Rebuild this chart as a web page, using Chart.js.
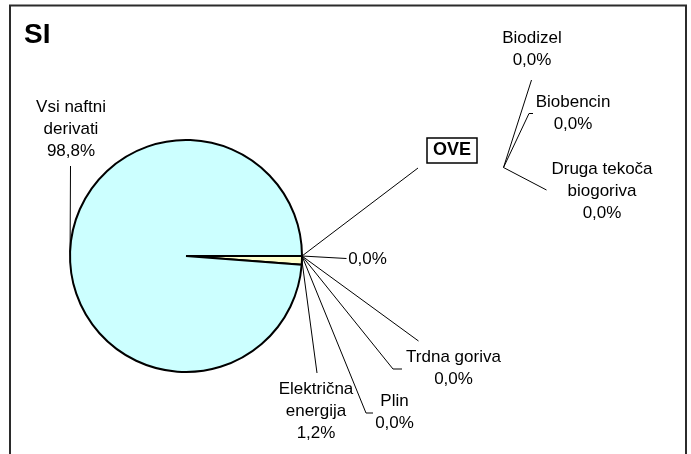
<!DOCTYPE html>
<html>
<head>
<meta charset="utf-8">
<title>SI</title>
<script src="https://cdn.jsdelivr.net/npm/chart.js@4.4.1/dist/chart.umd.min.js"></script>
<style>
  html, body { margin: 0; padding: 0; background: #fff; }
  canvas { display: block; }
</style>
</head>
<body>
<canvas id="chart" width="691" height="454"></canvas>
<script>
// struktura porabe energije v prometu - SI
const categories = ['Električna\nenergija', 'Vsi naftni\nderivati', 'Plin', 'Trdna goriva', '', '', 'OVE'];
const shares = [1.2, 98.8, 0.0, 0.0, 0.0, 0.0, 0.0];
const showPct = [true, true, true, true, false, true, false];

// razčlenitev OVE
const oveCategories = ['Biodizel', 'Biobencin', 'Druga tekoča\nbiogoriva'];
const oveShares = [0.0, 0.0, 0.0];

const sliceColors = ['#FFFFCC', '#CCFFFF', '#FFFFFF', '#FFFFFF', '#FFFFFF', '#FFFFFF', '#FFFFFF'];

// kam gredo črte do oznak (zadnja točka je konec črte) in središče besedila
const labelLayout = [
  { path: [[317, 373]], x: 316, y: 389 },
  { path: [[70.5, 166]], x: 71, y: 107.5 },
  { path: [[366, 413], [373, 413]], x: 394.5, y: 401 },
  { path: [[393, 369], [402, 369]], x: 453.5, y: 357.5 },
  { path: [[418.5, 341]] },
  { path: [[346.5, 258.5]], x: 367.5, y: 259 },
  { path: [[418, 168]], x: 452, y: 150.5, box: true }
];
const oveJunction = [503.5, 167.5];
const oveLayout = [
  { path: [[531.5, 80]], x: 532, y: 38.5 },
  { path: [[529, 113.5], [533, 113.5]], x: 573, y: 102 },
  { path: [[546.5, 190]], x: 602, y: 169 }
];

const FONT = '"Liberation Sans", Arial, sans-serif';
const LINE_H = 22;
const fmt = v => v.toFixed(1).replace('.', ',') + '%';

function drawLabel(ctx, name, pct, lay) {
  const lines = name ? name.split('\n') : [];
  if (pct !== null) lines.push(pct);
  lines.forEach((t, k) => ctx.fillText(t, lay.x, lay.y + k * LINE_H));
}

function drawPath(ctx, start, pts) {
  ctx.beginPath();
  ctx.moveTo(start[0], start[1]);
  pts.forEach(p => ctx.lineTo(p[0], p[1]));
  ctx.stroke();
}

const leaders = {
  id: 'leaders',
  beforeDraw(chart) {
    const ctx = chart.ctx;
    ctx.save();
    ctx.strokeStyle = '#2b2b2b';
    ctx.lineWidth = 2;
    ctx.strokeRect(10, 5.5, 676, 500);
    ctx.fillStyle = '#000';
    ctx.font = 'bold 28px ' + FONT;
    ctx.textAlign = 'left';
    ctx.textBaseline = 'alphabetic';
    ctx.fillText('SI', 24, 42.5);
    ctx.restore();
  },
  afterDatasetsDraw(chart) {
    const ctx = chart.ctx;
    const arcs = chart.getDatasetMeta(0).data;
    ctx.save();
    ctx.strokeStyle = '#000';
    ctx.fillStyle = '#000';
    ctx.lineWidth = 1;
    ctx.textAlign = 'center';
    ctx.textBaseline = 'middle';

    arcs.forEach((arc, i) => {
      const p = arc.getProps(['x', 'y', 'startAngle', 'endAngle', 'outerRadius'], true);
      const mid = (p.startAngle + p.endAngle) / 2;
      const start = [p.x + p.outerRadius * Math.cos(mid), p.y + p.outerRadius * Math.sin(mid)];
      const lay = labelLayout[i];
      drawPath(ctx, start, lay.path);
      if (lay.box) {
        ctx.lineWidth = 1.5;
        ctx.strokeRect(427, 138, 50, 25);
        ctx.lineWidth = 1;
        ctx.font = 'bold 18px ' + FONT;
        ctx.fillText(categories[i], lay.x, lay.y);
      } else if (lay.x !== undefined) {
        ctx.font = '17px ' + FONT;
        drawLabel(ctx, categories[i], showPct[i] ? fmt(shares[i]) : null, lay);
      }
    });

    ctx.font = '17px ' + FONT;
    oveLayout.forEach((lay, j) => {
      drawPath(ctx, oveJunction, lay.path);
      drawLabel(ctx, oveCategories[j], fmt(oveShares[j]), lay);
    });
    ctx.restore();
  }
};

new Chart(document.getElementById('chart'), {
  type: 'pie',
  data: {
    labels: categories,
    datasets: [{
      data: shares,
      backgroundColor: sliceColors,
      borderColor: '#000',
      borderWidth: 2
    }]
  },
  options: {
    responsive: false,
    animation: false,
    devicePixelRatio: 1,
    events: [],
    rotation: 90,
    layout: { padding: { left: 69, right: 388, top: 139, bottom: 81 } },
    plugins: {
      legend: { display: false },
      tooltip: { enabled: false },
      title: { display: false }
    }
  },
  plugins: [leaders]
});
</script>
</body>
</html>
